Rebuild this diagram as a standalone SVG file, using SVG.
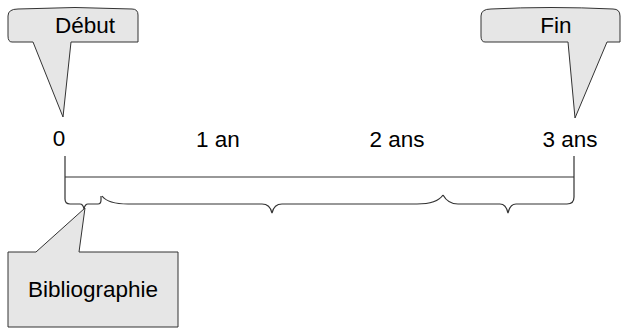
<svg xmlns="http://www.w3.org/2000/svg" width="627" height="328" viewBox="0 0 627 328">
<style>
.callout{fill:#e6e6e6;stroke:#333;stroke-width:1}
.line{fill:none;stroke:#333;stroke-width:1.2}
text{font-family:"Liberation Sans",Arial,sans-serif;font-size:22.5px;fill:#000}
</style>
<rect width="627" height="328" fill="#fff"/>
<g id="debut">
<path class="callout" d="M 8,16 Q 8,9 18,9 Q 75,6 132,9 Q 138,9 138,15 L 138,42 L 71,42 L 63,117 L 33,42 L 12,42 Q 8,42 8,36 Z"/>
<text x="85" y="33" text-anchor="middle">Début</text>
</g>
<g id="fin">
<path class="callout" d="M 481,16 Q 481,9 491,9 Q 550,6 613,9 Q 620,9 620,16 L 620,42 L 607,42 L 575,118 L 568,42 L 485,42 Q 481,42 481,36 Z"/>
<text x="556" y="33" text-anchor="middle">Fin</text>
</g>
<g id="bibliographie">
<path class="callout" d="M 8,252 L 36,252 L 85,208 L 79,252 L 178,252 L 178,327 L 8,327 Z"/>
<text x="93" y="297" text-anchor="middle">Bibliographie</text>
</g>
<g id="labels">
<text x="59" y="146" text-anchor="middle">0</text>
<text x="218" y="147" text-anchor="middle">1 an</text>
<text x="397" y="147" text-anchor="middle">2 ans</text>
<text x="570" y="147" text-anchor="middle">3 ans</text>
</g>
<g id="connectors">
<line class="line" x1="65" y1="177" x2="574" y2="177"/>
<path class="line" d="M 65,156 L 65,199 Q 65,204 70,204 L 80,204 Q 83,204 84,209 Q 85,204 88,204 L 98,204 Q 101,204 101,200 L 101,196"/>
<path class="line" d="M 102,196 Q 108,204 128,204 L 262,204 Q 270,204 272,213 Q 274,204 282,204 L 417,204 Q 437,204 443,195"/>
<path class="line" d="M 443,195 Q 448,204 458,204 L 500,204 Q 506,204 508,213 Q 510,204 516,204 L 567,204 Q 574,204 574,197 L 574,156"/>
</g>
</svg>
